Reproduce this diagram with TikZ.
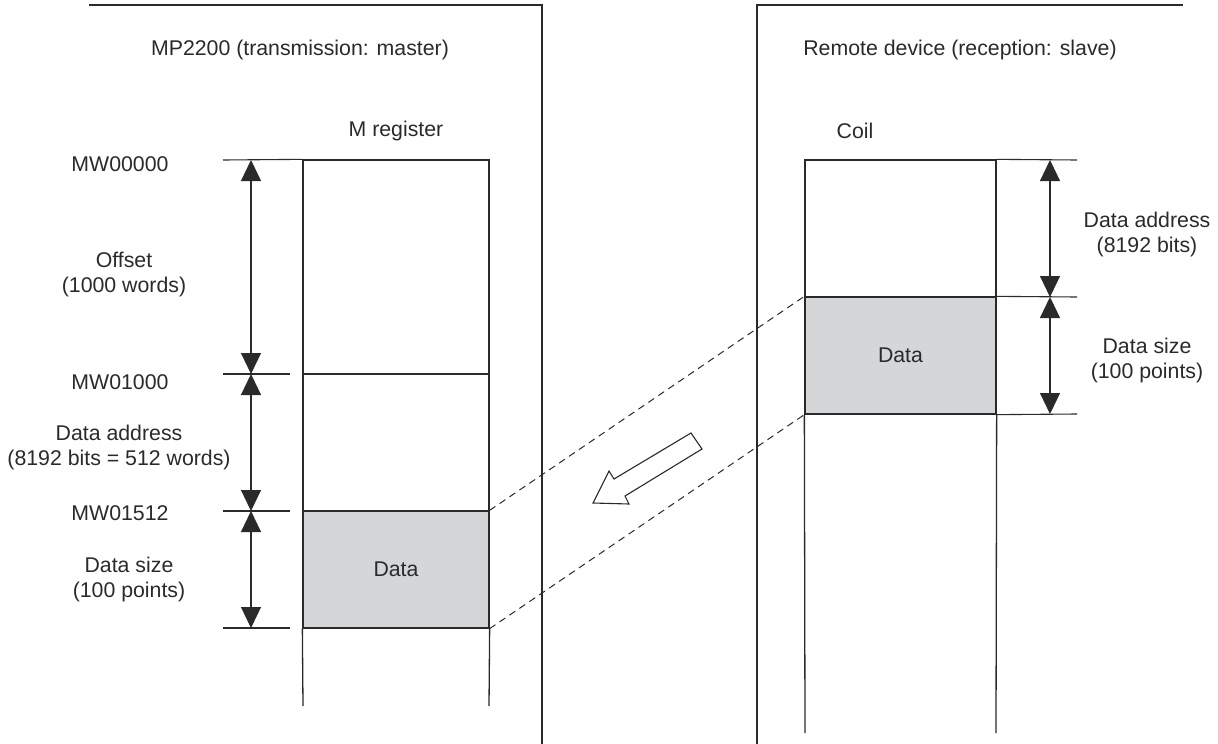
\documentclass[tikz,border=0pt]{standalone}
\usepackage{fontspec}
\setmainfont{Liberation Sans}
\usetikzlibrary{arrows.meta}
\definecolor{linec}{HTML}{2A2A2A}
\definecolor{datafill}{HTML}{D4D6D8}
\begin{document}
\begin{tikzpicture}[x=1pt,y=-1pt,
  ln/.style={draw=linec, line width=1.3pt},
  thin/.style={draw=linec, line width=1.1pt},
  dimline/.style={draw=linec, line width=1.2pt,
    {Triangle[width=20pt,length=21pt]}-{Triangle[width=20pt,length=21pt]}},
  dsh/.style={draw=linec, line width=1pt, dash pattern=on 7pt off 5pt},
  lbl/.style={font=\fontsize{21.3}{25}\selectfont, text=linec, align=center, inner sep=0pt},
  cell/.style={ln, inner sep=0pt, font=\fontsize{21.3}{25}\selectfont, text=linec}]
\useasboundingbox (0,0) rectangle (1218,744);

% panels
\draw[ln] (89,5) -- (542,5) -- (542,744);
\draw[ln] (1183,5) -- (757,5) -- (757,744);
\node[lbl] (titleL) at (300,50) {MP2200 (transmission: master)};
\node[lbl] (titleR) at (960,50) {Remote device (reception: slave)};

% left register column
\node[lbl] (mreg) at (396,131) {M register};
\node[cell, minimum width=186pt, minimum height=214pt] (offbox) at (396,267) {};
\node[cell, minimum width=186pt, minimum height=137pt] (addrbox) at (396,442.5) {};
\node[cell, fill=datafill, minimum width=186pt, minimum height=117pt] (dataL) at (396,569.5) {Data};
\coordinate (colLa) at (303,706);
\coordinate (colLb) at (489,706);
\draw[ln] (dataL.south west) -- (colLa);
\draw[ln] (dataL.south east) -- (colLb);

% left ticks
\coordinate (tA) at (223,160);
\coordinate (tB) at (223,374);
\coordinate (tC) at (223,511);
\coordinate (tD) at (223,628);
\draw[thin] (tA) -- (offbox.north west);
\draw[thin] (tB) -- ++(67,0);
\draw[thin] (tC) -- ++(67,0);
\draw[thin] (tD) -- ++(67,0);
\coordinate (aA) at (251,160);
\coordinate (aB) at (251,374);
\coordinate (aC) at (251,511);
\coordinate (aD) at (251,628);
\draw[dimline] (aA) -- (aB);
\draw[dimline] (aB) -- (aC);
\draw[dimline] (aC) -- (aD);

\node[lbl] (mw0) at (120,164) {MW00000};
\node[lbl] (offset) at (124,274) {Offset\\(1000 words)};
\node[lbl] (mw1000) at (120,382) {MW01000};
\node[lbl] (daddrL) at (119,447) {Data address\\(8192 bits = 512 words)};
\node[lbl] (mw1512) at (120,513) {MW01512};
\node[lbl] (dsizeL) at (129,579) {Data size\\(100 points)};

% right column
\node[lbl] (coil) at (855,131) {Coil};
\node[cell, minimum width=191pt, minimum height=137pt] (coilbox) at (900.5,228.5) {};
\node[cell, fill=datafill, minimum width=191pt, minimum height=117pt] (dataR) at (900.5,355.5) {Data};
\coordinate (colRa) at (805,733);
\coordinate (colRb) at (996,733);
\draw[ln] (dataR.south west) -- (colRa);
\draw[ln] (dataR.south east) -- (colRb);

\coordinate (rA) at (1077,160);
\coordinate (rB) at (1077,297);
\coordinate (rC) at (1077,414);
\draw[thin] (coilbox.north east) -- (rA);
\draw[thin] (dataR.north east) -- (rB);
\draw[thin] (dataR.south east) -- (rC);
\coordinate (bA) at (1050,160);
\coordinate (bB) at (1050,297);
\coordinate (bC) at (1050,414);
\draw[dimline] (bA) -- (bB);
\draw[dimline] (bB) -- (bC);

\node[lbl] (daddrR) at (1147,234) {Data address\\(8192 bits)};
\node[lbl] (dsizeR) at (1147,360) {Data size\\(100 points)};

% dashed correspondence
\draw[dsh] (dataL.north east) -- (dataR.north west);
\draw[dsh] (dataL.south east) -- (dataR.south west);

% hollow transfer arrow
\draw[ln, line width=1.1pt, fill=white, line join=miter]
  (691,433) -- (614,479) -- (609,471) -- (593,503) -- (629,504) -- (625,496) -- (702,449) -- cycle;
\end{tikzpicture}
\end{document}
